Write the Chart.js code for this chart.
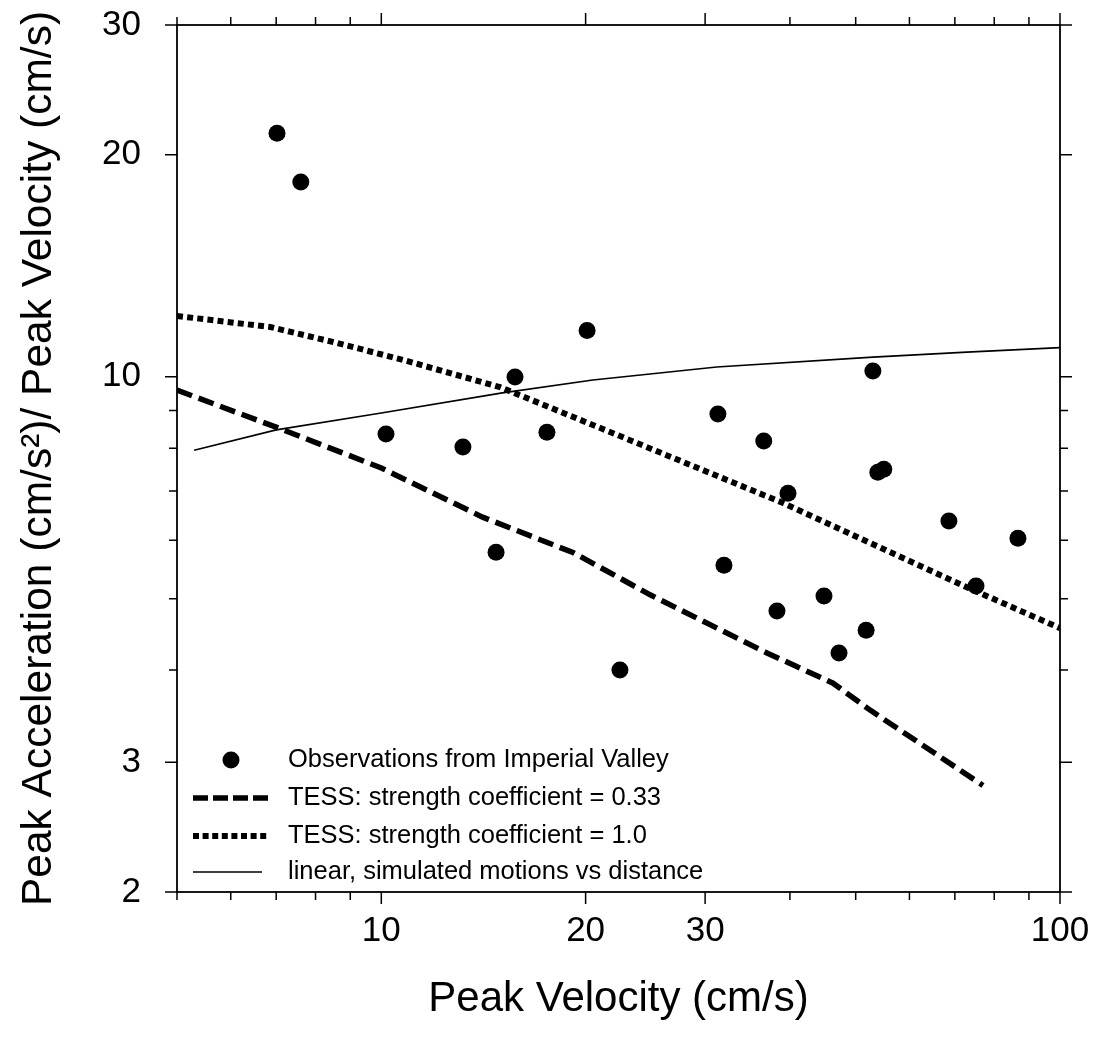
<!DOCTYPE html>
<html>
<head>
<meta charset="utf-8">
<script src="https://cdn.jsdelivr.net/npm/chart.js@4.4.0/dist/chart.umd.min.js"></script>
<style>
  html, body { margin: 0; padding: 0; background: #fff; }
  #wrap { width: 1100px; height: 1045px; }
</style>
</head>
<body>
<div id="wrap"><canvas id="chart"></canvas></div>
<script>
// observations (peak velocity, accel/velocity ratio)
const obsVelocity = [7.02, 7.61, 10.16, 13.19, 14.76, 15.74, 17.54, 20.1, 22.47, 31.33, 31.98, 36.6,
                     38.28, 39.74, 44.9, 47.25, 51.8, 53.0, 53.9, 55.0, 68.6, 75.2, 86.7];
const obsRatio = [21.4, 18.37, 8.36, 8.03, 5.78, 9.99, 8.41, 11.55, 4.0, 8.90, 5.55, 8.18,
                  4.81, 6.95, 5.04, 4.22, 4.53, 10.18, 7.42, 7.49, 6.37, 5.20, 6.04];

// TESS, strength coefficient 0.33
const tess033Velocity = [5, 7.1, 10, 14.1, 19.2, 24.9, 37, 46.3, 52.5, 77];
const tess033Ratio = [9.59, 8.5, 7.52, 6.45, 5.77, 5.06, 4.22, 3.84, 3.53, 2.79];

// TESS, strength coefficient 1.0
const tess10Velocity = [5, 6.86, 8.61, 10.76, 14.96, 22.25, 39.1, 72.9, 100];
const tess10Ratio = [12.09, 11.68, 11.11, 10.54, 9.68, 8.34, 6.74, 5.18, 4.56];

// linear, simulated motions vs distance
const linearVelocity = [5.3, 7, 10, 15, 20.5, 31.2, 53, 72.9, 100];
const linearRatio = [7.95, 8.47, 8.93, 9.50, 9.90, 10.31, 10.63, 10.80, 10.95];

const xTicks = [5, 6, 7, 8, 9, 10, 20, 30, 40, 50, 60, 70, 80, 90, 100];
const xLabels = [10, 20, 30, 100];
const yTicks = [2, 3, 4, 5, 6, 7, 8, 9, 10, 20, 30];
const yLabels = [2, 3, 10, 20, 30];

const legendLabels = [
  'Observations from Imperial Valley',
  'TESS: strength coefficient = 0.33',
  'TESS: strength coefficient = 1.0',
  'linear, simulated motions vs distance'
];

const FONT = "'Liberation Sans', Arial, Helvetica, sans-serif";
Chart.defaults.font.family = FONT;
Chart.defaults.color = '#000';

const pts = (xs, ys) => xs.map((v, i) => ({ x: v, y: ys[i] }));

// frame around the plot with outward ticks on all four sides
const frameTicks = {
  id: 'frameTicks',
  afterDraw(chart) {
    const { ctx, chartArea: a, scales: { x, y } } = chart;
    ctx.save();
    ctx.strokeStyle = '#000';
    ctx.lineWidth = 1.5;
    ctx.beginPath();
    x.ticks.forEach(t => {
      const px = x.getPixelForValue(t.value);
      const len = t.major ? 12 : 8;
      ctx.moveTo(px, a.bottom); ctx.lineTo(px, a.bottom + len);
      ctx.moveTo(px, a.top); ctx.lineTo(px, a.top - len);
    });
    y.ticks.forEach(t => {
      const py = y.getPixelForValue(t.value);
      const len = t.major ? 12 : 8;
      ctx.moveTo(a.left, py); ctx.lineTo(a.left - len, py);
      ctx.moveTo(a.right, py); ctx.lineTo(a.right + len, py);
    });
    ctx.stroke();
    ctx.lineWidth = 1.8;
    ctx.strokeRect(a.left, a.top, a.right - a.left, a.bottom - a.top);
    ctx.restore();
  }
};

// legend in lower left of plot area
const legendDash = [null, [15, 5], [6, 3.6], []];
const plotLegend = {
  id: 'plotLegend',
  afterDraw(chart) {
    const { ctx, chartArea: a } = chart;
    const rows = [a.bottom - 132, a.bottom - 94, a.bottom - 56, a.bottom - 20];
    const x0 = a.left + 16, x1 = a.left + 91;
    ctx.save();
    ctx.fillStyle = '#000';
    ctx.strokeStyle = '#000';
    chart.data.datasets.forEach((ds, i) => {
      const yy = rows[i];
      if (i === 0) {
        ctx.beginPath();
        ctx.arc(a.left + 54, yy, ds.pointRadius, 0, Math.PI * 2);
        ctx.fill();
      } else {
        ctx.beginPath();
        ctx.lineWidth = ds.borderWidth;
        ctx.setLineDash(legendDash[i]);
        ctx.lineCap = 'butt';
        ctx.moveTo(x0, yy);
        ctx.lineTo(i === 3 ? x1 - 6 : x1, yy);
        ctx.stroke();
      }
      ctx.setLineDash([]);
      ctx.font = '25.5px ' + FONT;
      ctx.textBaseline = 'middle';
      ctx.textAlign = 'left';
      ctx.fillText(ds.label, a.left + 111, yy);
    });
    ctx.restore();
  }
};

new Chart(document.getElementById('chart'), {
  type: 'scatter',
  data: {
    datasets: [
      {
        label: legendLabels[0],
        data: pts(obsVelocity, obsRatio),
        pointRadius: 8.5,
        pointBackgroundColor: '#000',
        pointBorderWidth: 0,
        showLine: false
      },
      {
        label: legendLabels[1],
        data: pts(tess033Velocity, tess033Ratio),
        showLine: true,
        borderColor: '#000',
        borderWidth: 5.5,
        borderDash: [16, 7],
        borderCapStyle: 'butt',
        pointRadius: 0
      },
      {
        label: legendLabels[2],
        data: pts(tess10Velocity, tess10Ratio),
        showLine: true,
        borderColor: '#000',
        borderWidth: 6,
        borderDash: [6, 4.2],
        borderCapStyle: 'butt',
        pointRadius: 0
      },
      {
        label: legendLabels[3],
        data: pts(linearVelocity, linearRatio),
        showLine: true,
        borderColor: '#000',
        borderWidth: 1.6,
        pointRadius: 0
      }
    ]
  },
  options: {
    responsive: true,
    maintainAspectRatio: false,
    devicePixelRatio: 1,
    animation: false,
    layout: { padding: { top: 25, right: 40, left: 0, bottom: 0 } },
    plugins: {
      legend: { display: false },
      tooltip: { enabled: false }
    },
    scales: {
      x: {
        type: 'logarithmic',
        min: 5,
        max: 100,
        grid: { display: false, drawTicks: false },
        border: { display: false },
        afterBuildTicks: s => { s.ticks = xTicks.map(v => ({ value: v, major: xLabels.includes(v) })); },
        afterFit: s => {
          s.height = 153;
          s.paddingLeft = 0;
          s.paddingRight = 0;
        },
        ticks: {
          autoSkip: false,
          maxRotation: 0,
          padding: 18,
          color: '#000',
          font: { size: 35 },
          callback: v => xLabels.includes(v) ? String(v) : ''
        },
        title: {
          display: true,
          text: 'Peak Velocity (cm/s)',
          color: '#000',
          font: { size: 42 },
          padding: { top: 0, bottom: 20 }
        }
      },
      y: {
        type: 'logarithmic',
        min: 2,
        max: 30,
        grid: { display: false, drawTicks: false },
        border: { display: false },
        afterBuildTicks: s => { s.ticks = yTicks.map(v => ({ value: v, major: yLabels.includes(v) })); },
        afterFit: s => {
          s.width = 177;
          s.paddingTop = 0;
          s.paddingBottom = 0;
        },
        ticks: {
          autoSkip: false,
          padding: 36,
          color: '#000',
          font: { size: 35 },
          callback: v => yLabels.includes(v) ? String(v) : ''
        },
        title: {
          display: true,
          text: 'Peak Acceleration (cm/s²)/ Peak Velocity (cm/s)',
          color: '#000',
          font: { size: 42.5 },
          padding: { top: 13.5, bottom: 0 }
        }
      }
    }
  },
  plugins: [frameTicks, plotLegend]
});
</script>
</body>
</html>
